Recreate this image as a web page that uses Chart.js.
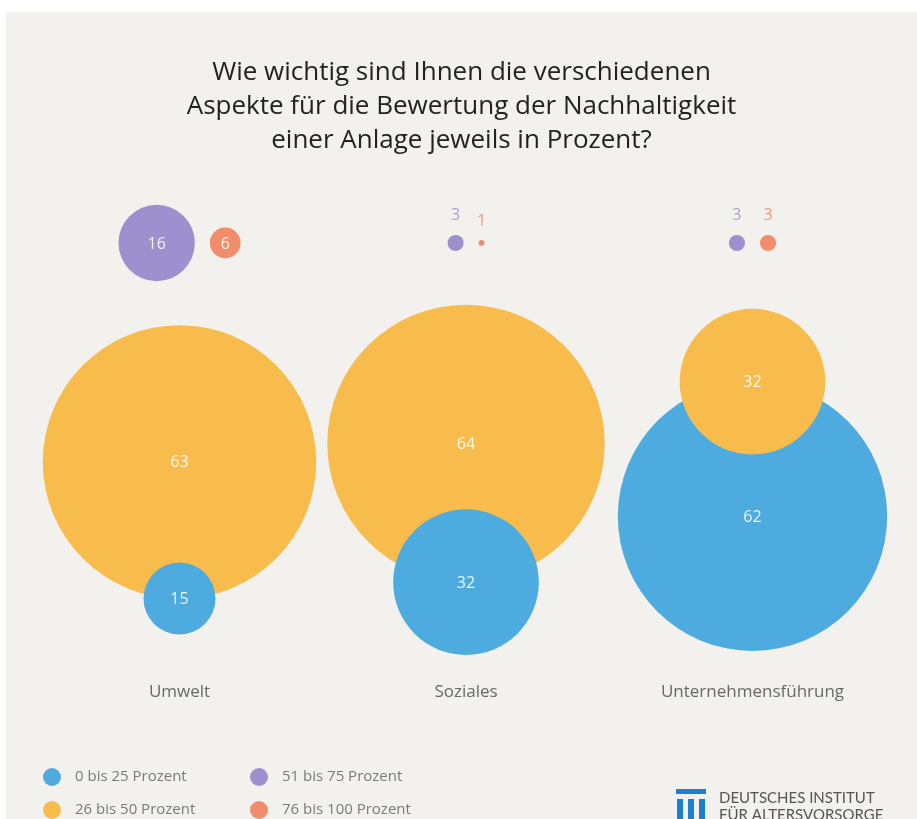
<!DOCTYPE html>
<html lang="de">
<head>
<meta charset="utf-8">
<title>Bewertung der Nachhaltigkeit einer Anlage</title>
<script src="https://cdn.jsdelivr.net/npm/chart.js@4.4.1/dist/chart.umd.min.js"></script>
<style>
  html, body { margin: 0; padding: 0; background: #fff; }
  #wrap { width: 917px; height: 819px; }
  canvas { display: block; }
</style>
</head>
<body>
<div id="wrap"><canvas id="chart" width="917" height="819"></canvas></div>
<script>
// aspects (x axis)
const categories = ["Umwelt", "Soziales", "Unternehmensführung"];
// answer ranges (legend)
const ranges = ["0 bis 25 Prozent", "26 bis 50 Prozent", "51 bis 75 Prozent", "76 bis 100 Prozent"];
// percent of respondents per range, one value per aspect
const range0to25 = [15, 32, 62];
const range26to50 = [63, 64, 32];
const range51to75 = [16, 3, 3];
const range76to100 = [6, 1, 3];

const titleLines = [
    "Wie wichtig sind Ihnen die verschiedenen",
    "Aspekte für die Bewertung der Nachhaltigkeit",
    "einer Anlage jeweils in Prozent?",
];

const seriesByRange = [range0to25, range26to50, range51to75, range76to100];
const colors = ["#4eabe0", "#f8bc4c", "#9d90cf", "#f28d6b"];
const smallLabelColors = ["#4eabe0", "#f8bc4c", "#a99fd6", "#f29b7f"];

// plot geometry: 1 y unit = 1 px, x units are aspects
const PLOT_W = 911;
const X_MIN = -0.6056;
const X_MAX = 2.5742;
const PX_PER_UNIT = PLOT_W / (X_MAX - X_MIN);
const PLOT_H = 498;
const ROW_Y = 63;       // line of the two small bubbles
const STACK_MID = 300;  // middle of the stacked big pair
const GAP = 15;

function radiusOf(v) {
    return 2.9 * Math.pow(v, 0.93);
}

function pointsFor(ci) {
    const r = seriesByRange.map((s) => radiusOf(s[ci]));
    const pts = [];
    // 51-75 and 76-100 side by side, centred on the aspect
    const w = 2 * r[2] + GAP + 2 * r[3];
    pts.push({ k: 2, x: ci + (-w / 2 + r[2]) / PX_PER_UNIT, y: ROW_Y });
    pts.push({ k: 3, x: ci + (w / 2 - r[3]) / PX_PER_UNIT, y: ROW_Y });
    // 26-50 above 0-25, the smaller centre sits on the bigger one's edge
    const d = Math.max(r[0], r[1]);
    const yTop = STACK_MID - (d + r[0] - r[1]) / 2;
    pts.push({ k: 1, x: ci, y: yTop });
    pts.push({ k: 0, x: ci, y: yTop + d });
    pts.forEach((p) => {
        p.r = r[p.k];
        p.v = seriesByRange[p.k][ci];
    });
    // small ones drawn last
    return pts.sort((a, b) => b.r - a.r);
}

const panel = {
    id: "panel",
    beforeDraw(chart) {
        const ctx = chart.ctx;
        ctx.save();
        ctx.fillStyle = "#ffffff";
        ctx.fillRect(0, 0, chart.width, chart.height);
        ctx.fillStyle = "#f2f1ee";
        ctx.fillRect(6, 12, chart.width - 6, chart.height - 12);
        ctx.restore();
    },
};

const valueLabels = {
    id: "valueLabels",
    afterDatasetsDraw(chart) {
        const ctx = chart.ctx;
        ctx.save();
        ctx.textAlign = "center";
        ctx.textBaseline = "middle";
        ctx.font = "16px 'Open Sans'";
        chart.data.datasets.forEach((ds, i) => {
            chart.getDatasetMeta(i).data.forEach((el, j) => {
                const p = ds.data[j];
                if (p.r >= 12) {
                    ctx.fillStyle = "rgba(255,255,255,0.88)";
                    ctx.fillText(String(p.v), el.x, el.y + 1);
                } else {
                    ctx.fillStyle = smallLabelColors[p.k];
                    ctx.fillText(String(p.v), el.x, el.y - p.r - 19);
                }
            });
        });
        ctx.restore();
    },
};

const legendAndLogo = {
    id: "legendAndLogo",
    afterDraw(chart) {
        const ctx = chart.ctx;
        ctx.save();
        // legend, two columns
        const cols = [52, 259];
        const rows = [777, 810];
        ctx.font = "15px 'Open Sans'";
        ctx.textAlign = "left";
        ctx.textBaseline = "middle";
        ranges.forEach((name, k) => {
            const cx = cols[Math.floor(k / 2)];
            const cy = rows[k % 2];
            ctx.fillStyle = colors[k];
            ctx.beginPath();
            ctx.arc(cx, cy, 9, 0, Math.PI * 2);
            ctx.fill();
            ctx.fillStyle = "#7a7a7a";
            ctx.fillText(name, cx + 23, cy);
        });
        // logo
        ctx.fillStyle = "#1b80d2";
        ctx.fillRect(676, 789, 30, 5);
        [677, 688, 699].forEach((x) => ctx.fillRect(x, 799, 6, 22));
        ctx.fillStyle = "#555555";
        ctx.font = "15px Lato";
        ctx.fillText("DEUTSCHES INSTITUT", 719, 798);
        ctx.fillText("FÜR ALTERSVORSORGE", 719, 815);
        ctx.restore();
    },
};

Chart.defaults.font.family = "'Open Sans'";

new Chart(document.getElementById("chart").getContext("2d"), {
    type: "bubble",
    data: {
        datasets: categories.map((name, ci) => ({
            label: name,
            data: pointsFor(ci),
            backgroundColor: (c) => colors[c.raw ? c.raw.k : 0],
            borderWidth: 0,
            hoverBorderWidth: 0,
        })),
    },
    options: {
        responsive: false,
        devicePixelRatio: 1,
        animation: false,
        events: [],
        layout: { autoPadding: false, padding: { left: 6, right: 0, top: 0, bottom: 112.8 } },
        scales: {
            x: {
                type: "linear",
                min: X_MIN,
                max: X_MAX,
                grid: { display: false, drawTicks: false },
                border: { display: false },
                afterBuildTicks: (scale) => {
                    scale.ticks = categories.map((_, i) => ({ value: i }));
                },
                ticks: {
                    autoSkip: false,
                    maxRotation: 0,
                    padding: 4,
                    color: "#686868",
                    font: { size: 17 },
                    callback: (v) => categories[v],
                },
            },
            y: {
                type: "linear",
                display: false,
                reverse: true,
                min: 0,
                max: PLOT_H,
            },
        },
        plugins: {
            legend: { display: false },
            tooltip: { enabled: false },
            title: {
                display: true,
                text: titleLines,
                color: "#222222",
                font: { size: 26, weight: "500", lineHeight: 1.292 },
                padding: { top: 56.2, bottom: 23 },
            },
        },
    },
    plugins: [panel, valueLabels, legendAndLogo],
});
</script>
</body>
</html>
